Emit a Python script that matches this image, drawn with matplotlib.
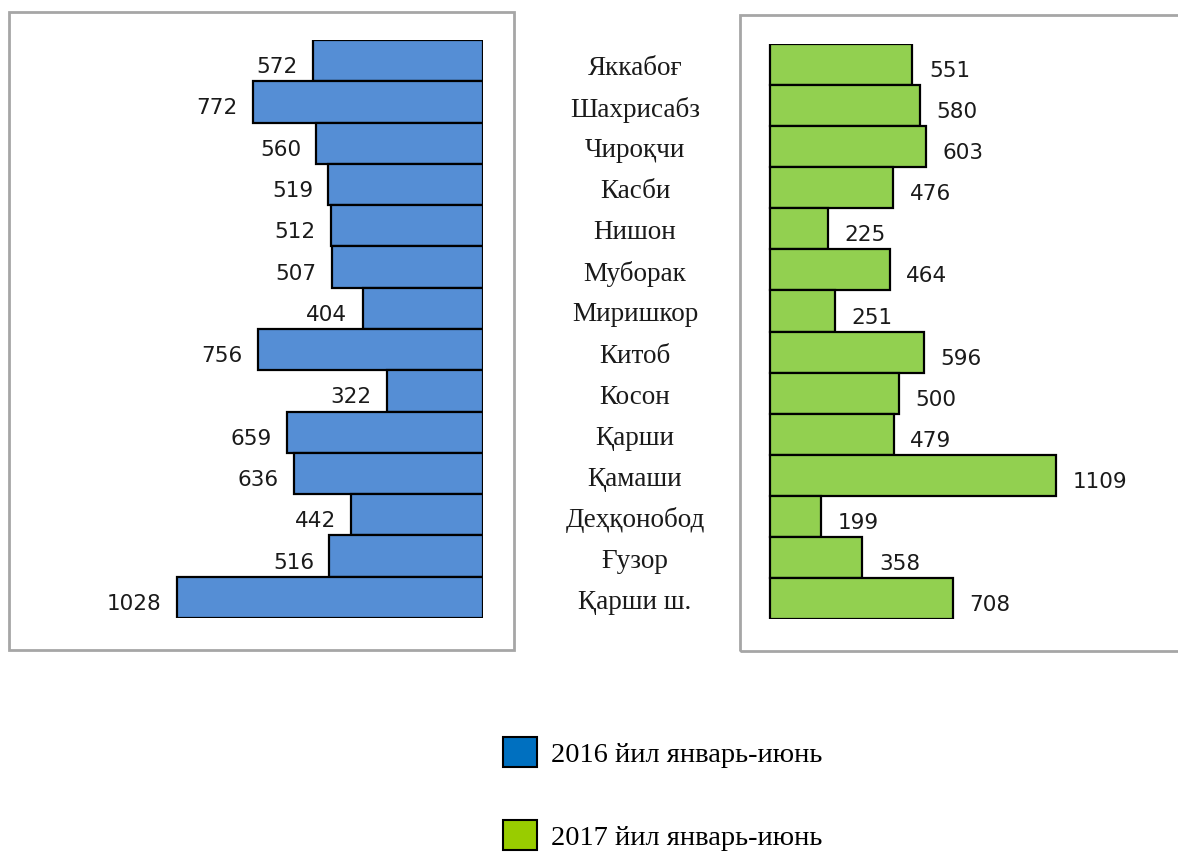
import matplotlib.pyplot as plt
from matplotlib.patches import Rectangle, Patch
from matplotlib.transforms import blended_transform_factory, ScaledTranslation

# Districts (top to bottom) and values for the two half-year periods
districts = ['Яккабоғ', 'Шахрисабз', 'Чироқчи', 'Касби', 'Нишон', 'Муборак',
             'Миришкор', 'Китоб', 'Косон', 'Қарши', 'Қамаши', 'Деҳқонобод',
             'Ғузор', 'Қарши ш.']
v2016 = [572, 772, 560, 519, 512, 507, 404, 756, 322, 659, 636, 442, 516, 1028]
v2017 = [551, 580, 603, 476, 225, 464, 251, 596, 500, 479, 1109, 199, 358, 708]
legend_labels = ['2016 йил январь-июнь', '2017 йил январь-июнь']

W, H = 1178, 854
fig = plt.figure(figsize=(W / 100, H / 100), dpi=100)


def box(x0, y0, x1, y1):
    # pixel box (top-left origin) -> figure fraction [l, b, w, h]
    return [x0 / W, 1 - y1 / H, (x1 - x0) / W, (y1 - y0) / H]


# grey frames around both panels
for x0, y0, x1, y1 in [(9, 13, 514, 651), (740, 16, 1195, 652)]:
    l, b, w, h = box(x0, y0, x1, y1)
    fig.patches.append(Rectangle((l, b), w, h, transform=fig.transFigure,
                                 fill=False, edgecolor='#a6a6a6', lw=2))

pos = list(range(len(districts)))

# left panel: 2016, bars grow to the left
ax1 = fig.add_axes(box(150, 41, 483, 619))
ax1.barh(pos, v2016, height=1.0, color='#558ed5', edgecolor='black', lw=1.6)
ax1.set_xlim(333 / 0.2977, 0)
ax1.set_ylim(len(districts) - 0.5, -0.5)
ax1.axis('off')
for p, v in zip(pos, v2016):
    ax1.annotate(str(v), (v, p), xytext=(-11, -4), textcoords='offset points',
                 ha='right', va='center', fontsize=15.5, color='#1a1a1a')

# right panel: 2017
ax2 = fig.add_axes(box(765, 45, 1170, 620))
ax2.barh(pos, v2017, height=1.0, color='#92d050', edgecolor='black', lw=1.6)
ax2.set_xlim(-5 / 0.258, 400 / 0.258)
ax2.set_ylim(len(districts) - 0.5, -0.5)
ax2.axis('off')
for p, v in zip(pos, v2017):
    ax2.annotate(str(v), (v, p), xytext=(12, -4), textcoords='offset points',
                 ha='left', va='center', fontsize=15.5, color='#1a1a1a')

# district names in the middle, nudged down a little
tr = blended_transform_factory(fig.transFigure, ax2.transData) + \
    ScaledTranslation(0, -3 / 100, fig.dpi_scale_trans)
for p, name in zip(pos, districts):
    fig.text(635 / W, p, name, transform=tr, ha='center', va='center',
             fontsize=19.5, family='Liberation Serif', color='#1a1a1a')

handles = [Patch(facecolor='#0070c0', edgecolor='black', lw=1.5),
           Patch(facecolor='#99cc00', edgecolor='black', lw=1.5)]
fig.legend(handles, legend_labels, loc='upper left',
           bbox_to_anchor=(503 / W, 1 - 738 / H), frameon=False,
           borderpad=0, borderaxespad=0, handlelength=1.2, handleheight=1.22,
           handletextpad=0.5, labelspacing=1.85,
           prop={'family': 'Liberation Serif', 'size': 20.5})

fig.savefig('out.png', dpi=100)
